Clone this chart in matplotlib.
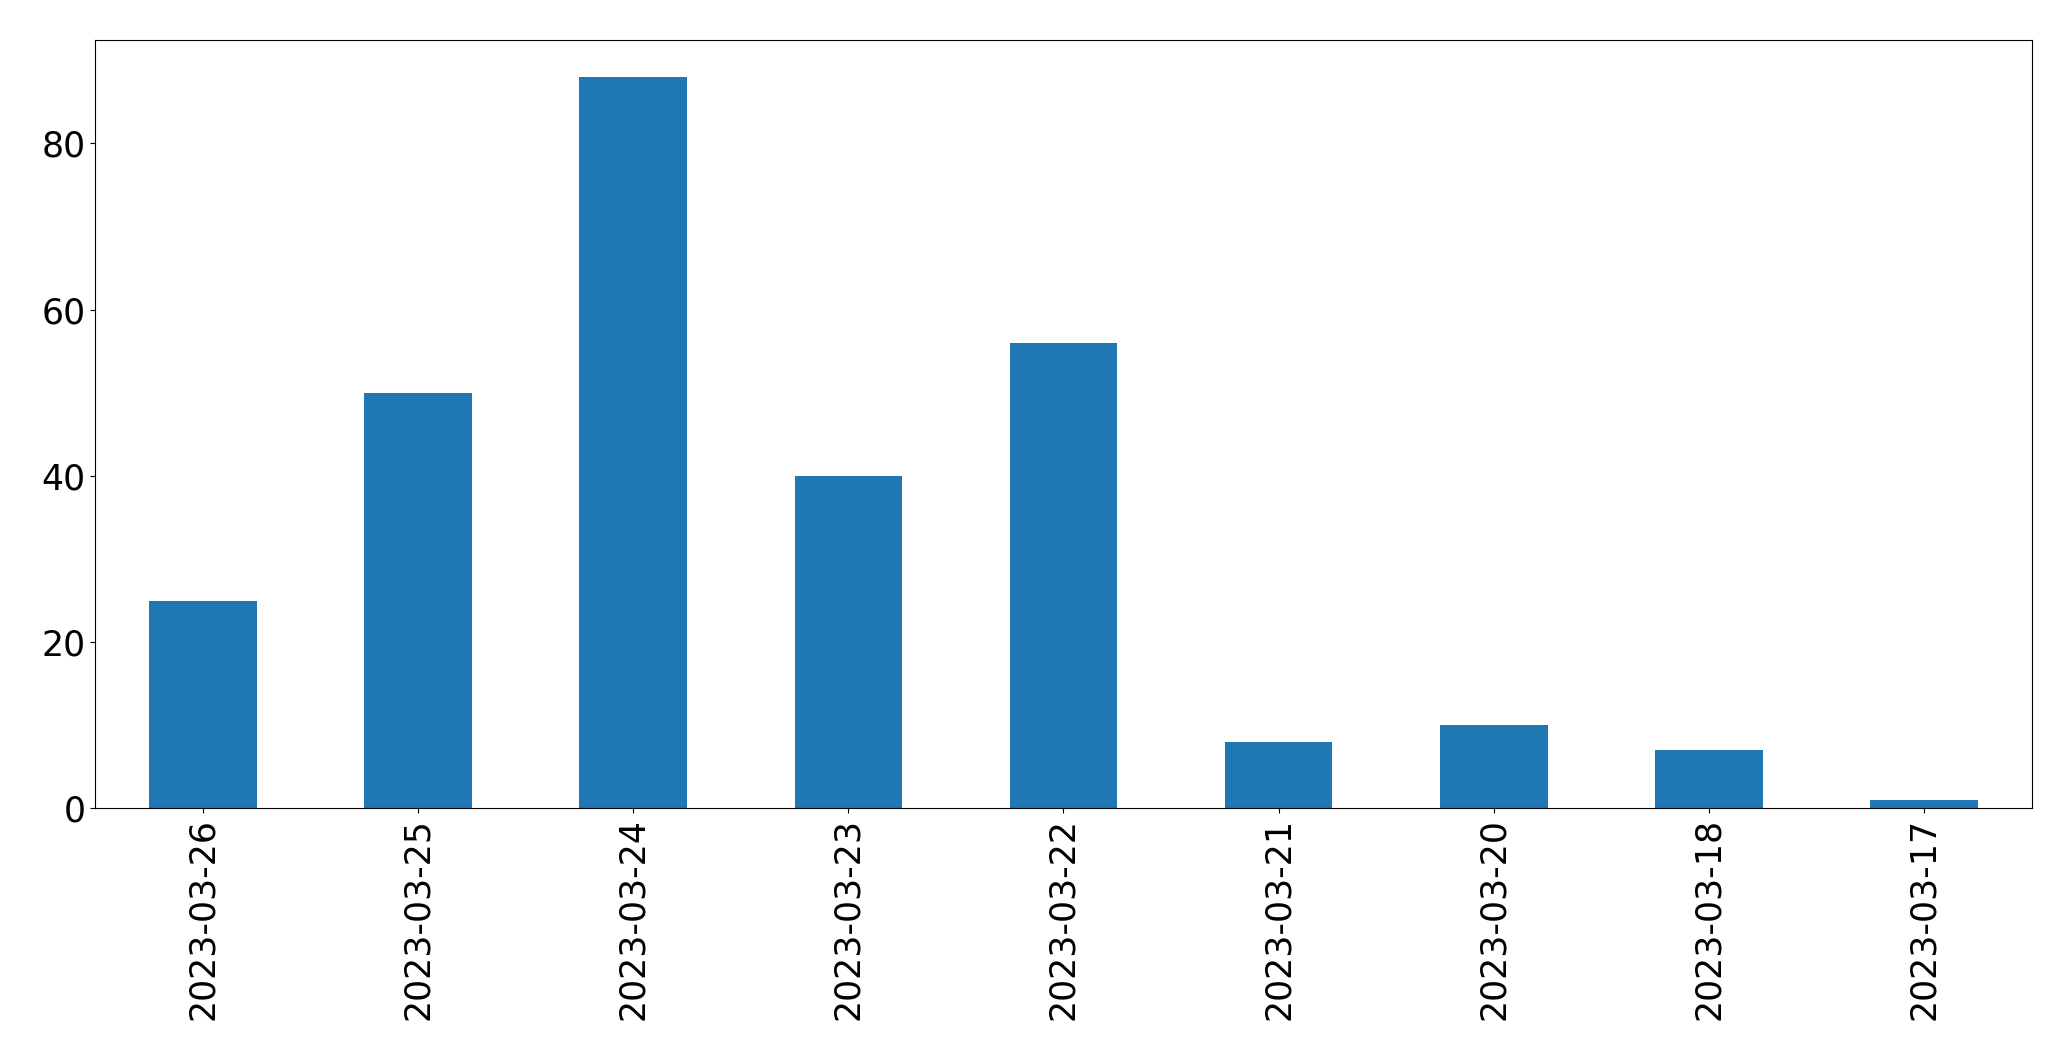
import matplotlib.pyplot as plt

# données
dates = ["2023-03-26", "2023-03-25", "2023-03-24", "2023-03-23", "2023-03-22",
         "2023-03-21", "2023-03-20", "2023-03-18", "2023-03-17"]
counts = [25, 50, 88, 40, 56, 8, 10, 7, 1]

fig = plt.figure(figsize=(20.71, 10.61), dpi=100)
ax = fig.add_axes([0.046, 0.238, 0.935, 0.724])

x = list(range(len(dates)))
ax.bar(x, counts, width=0.5, color="#1f77b4")
ax.set_xlim(-0.5, len(dates) - 0.5)
ax.set_xticks(x)
ax.set_xticklabels(dates, rotation=90, fontsize=25)
ax.tick_params(axis="y", labelsize=25)

fig.savefig("out.png", dpi=100)
